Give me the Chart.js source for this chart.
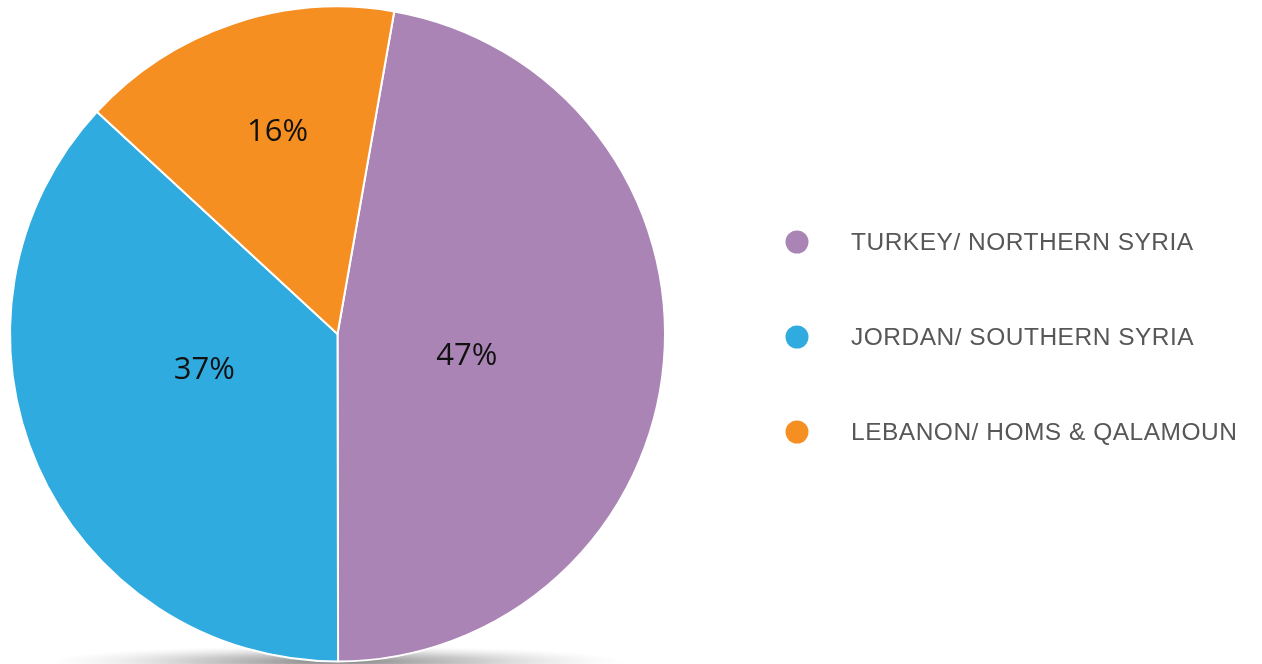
<!DOCTYPE html>
<html>
<head>
<meta charset="utf-8">
<script src="https://cdn.jsdelivr.net/npm/chart.js@4/dist/chart.umd.min.js"></script>
<style>
  html, body { margin: 0; padding: 0; background: #ffffff; }
  #wrap { position: relative; width: 1262px; height: 664px; }
</style>
</head>
<body>
<div id="wrap"><canvas id="c" width="1262" height="664"></canvas></div>
<script>
const categories = ["TURKEY/ NORTHERN SYRIA", "JORDAN/ SOUTHERN SYRIA", "LEBANON/ HOMS & QALAMOUN"];
const shares = [47.2, 36.9, 15.9];
const sliceColors = ["#a984b5", "#30abe0", "#f68f22"];
const valueLabels = ["47%", "37%", "16%"];

const shadowPlugin = {
  id: 'shadow',
  beforeDatasetsDraw(chart) {
    const arc = chart.getDatasetMeta(0).data[0];
    if (!arc) return;
    const ctx = chart.ctx;
    const cx = arc.x, cy = arc.y + arc.outerRadius;
    ctx.save();
    ctx.translate(cx, cy);
    ctx.scale(1, 0.055);
    const rr = arc.outerRadius * 0.88;
    const g = ctx.createRadialGradient(0, 0, 0, 0, 0, rr);
    g.addColorStop(0, 'rgba(90,90,90,0.75)');
    g.addColorStop(0.5, 'rgba(130,130,130,0.4)');
    g.addColorStop(1, 'rgba(200,200,200,0)');
    ctx.fillStyle = g;
    ctx.beginPath();
    ctx.arc(0, 0, rr, 0, Math.PI * 2);
    ctx.fill();
    ctx.restore();
  }
};

const valueLabelPlugin = {
  id: 'valueLabels',
  afterDatasetsDraw(chart, args, opts) {
    const ctx = chart.ctx;
    const meta = chart.getDatasetMeta(0);
    ctx.save();
    ctx.font = opts.font;
    ctx.fillStyle = opts.color;
    ctx.textAlign = 'center';
    ctx.textBaseline = 'middle';
    meta.data.forEach((arc, i) => {
      const mid = (arc.startAngle + arc.endAngle) / 2 + (opts.angleShift[i] || 0);
      const r = arc.outerRadius * opts.radiusFactor[i];
      ctx.fillText(valueLabels[i], arc.x + Math.cos(mid) * r, arc.y + Math.sin(mid) * r + 2);
    });
    ctx.restore();
  }
};

const legendPlugin = {
  id: 'sideLegend',
  afterDraw(chart, args, opts) {
    const ctx = chart.ctx;
    const n = chart.data.labels.length;
    ctx.save();
    ctx.font = opts.font;
    if ('letterSpacing' in ctx) ctx.letterSpacing = opts.letterSpacing;
    ctx.textBaseline = 'middle';
    ctx.textAlign = 'left';
    chart.data.labels.forEach((lab, i) => {
      const y = opts.centerY + (i - (n - 1) / 2) * opts.spacing;
      ctx.fillStyle = chart.data.datasets[0].backgroundColor[i];
      ctx.beginPath();
      ctx.arc(opts.dotX, y, opts.dotR, 0, Math.PI * 2);
      ctx.fill();
      ctx.fillStyle = opts.color;
      ctx.fillText(lab, opts.textX, y + 1);
    });
    ctx.restore();
  }
};

new Chart(document.getElementById('c'), {
  type: 'pie',
  data: {
    labels: categories,
    datasets: [{
      data: shares,
      backgroundColor: sliceColors,
      borderColor: '#ffffff',
      borderWidth: 2
    }]
  },
  options: {
    responsive: false,
    animation: false,
    rotation: 9.98,
    layout: { padding: { left: 9, top: 5, bottom: 1, right: 596 } },
    plugins: {
      legend: { display: false },
      tooltip: { enabled: false },
      valueLabels: {
        font: '31px "Open Sans", sans-serif',
        color: '#111111',
        radiusFactor: [0.40, 0.42, 0.65],
        angleShift: [0.07, 0.16, 0.04]
      },
      sideLegend: {
        font: '24.5px "Liberation Sans", Arial, sans-serif',
        letterSpacing: '0.5px',
        color: '#575757',
        dotX: 797, dotR: 11.5, textX: 851, centerY: 337, spacing: 95
      }
    }
  },
  plugins: [shadowPlugin, valueLabelPlugin, legendPlugin]
});
</script>
</body>
</html>
